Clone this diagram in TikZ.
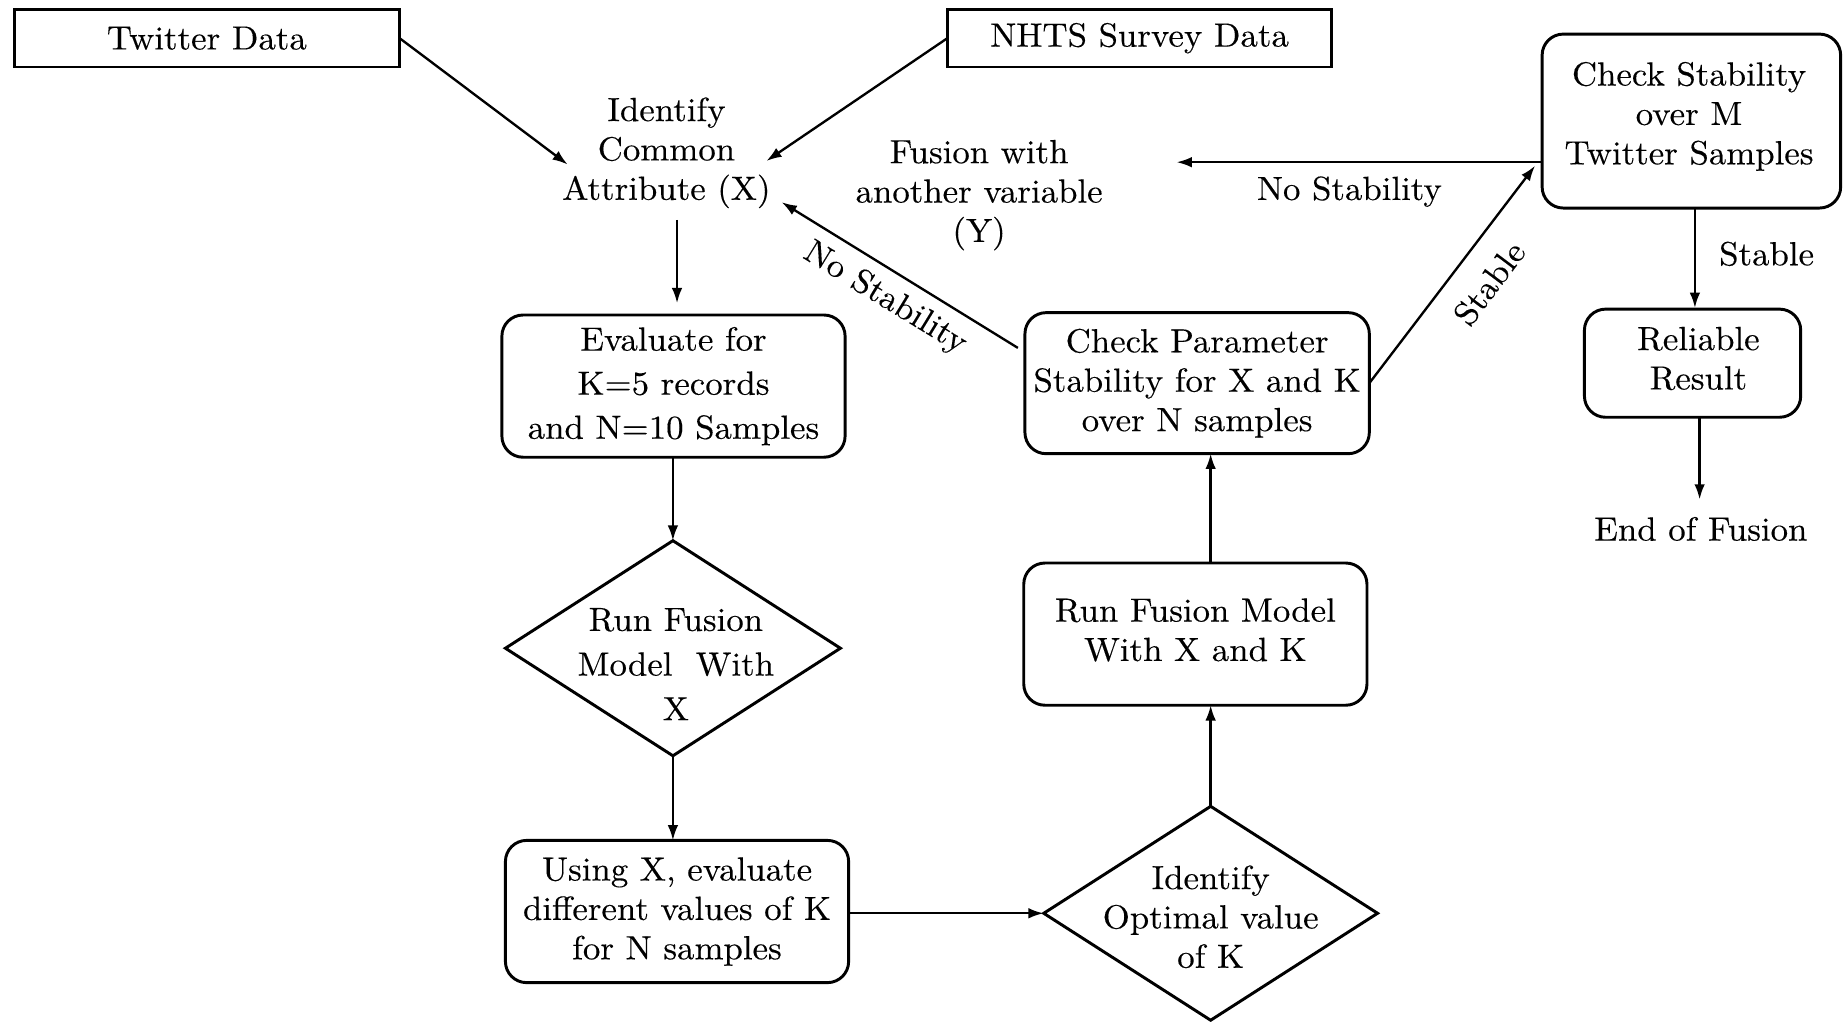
\documentclass[tikz,border=0pt]{standalone}
\usepackage{fontspec}
\setmainfont{lmroman10-regular}[Extension=.otf, FakeStretch=1.04, FakeBold=0.25]
\usetikzlibrary{shapes.geometric,arrows.meta}
\begin{document}
\begin{tikzpicture}[x=1pt,y=-1pt,
  every node/.style={font=\fontsize{28.5}{33.5}\selectfont, align=center, inner sep=0pt, outer sep=0pt},
  sqbox/.style={draw, line width=2.5pt, rectangle},
  rbox/.style={draw, line width=2.5pt, rectangle, rounded corners=18pt},
  dbox/.style={draw, line width=2.5pt, diamond, aspect=1.55},
  arr/.style={line width=2pt, -{Latex[length=13pt,width=9pt]}},
  lab/.style={font=\fontsize{28.5}{33.5}\selectfont}
]
\useasboundingbox (0,0) rectangle (1568,870);

% input boxes
\node[sqbox, minimum width=328pt, minimum height=49pt] (tw) at (176,32.5) {Twitter Data};
\node[sqbox, minimum width=327pt, minimum height=49pt] (nh) at (969.5,32.5) {NHTS Survey Data};

% common attribute text
\node (idc) at (567,130) {Identify\\Common\\Attribute (X)};

% evaluate box
\node[rbox, minimum width=292pt, minimum height=121pt] (ev) at (573,328.5) {Evaluate for\\[4pt]K=5 records\\[4pt]and N=10 Samples};

% diamond 1
\node[dbox, minimum width=285pt, minimum height=183pt] (d1) at (572.5,551.5) {};
\node[font=\fontsize{28.5}{38}\selectfont] (d1t) at (575,565) {Run Fusion\\Model~ With\\X};

% using X box
\node[rbox, minimum width=292pt, minimum height=121pt] (ux) at (576,775.5) {Using X, evaluate\\different values of K\\for N samples};

% diamond 2
\node[dbox, minimum width=284pt, minimum height=182pt] (d2) at (1030,777) {};
\node (d2t) at (1030,780) {Identify\\Optimal value\\of K};

% run fusion box
\node[rbox, minimum width=292pt, minimum height=121pt] (rf) at (1017,539.5) {};
\node (rft) at (1017,536) {Run Fusion Model\\With X and K};

% check parameter box
\node[rbox, minimum width=293pt, minimum height=120pt] (cp) at (1018.5,326) {Check Parameter\\Stability for X and K\\over N samples};

% check stability box
\node[rbox, minimum width=254pt, minimum height=148pt] (cs) at (1439,103) {};
\node (cst) at (1437,99) {Check Stability\\over M\\Twitter Samples};

% fusion with another variable
\node (fy) at (833,166) {Fusion with\\another variable\\(Y)};

% reliable result
\node[rbox, minimum width=184pt, minimum height=92pt] (rr) at (1440,309) {};
\node (rrt) at (1445,305) {Reliable\\Result};

% end of fusion
\node (ef) at (1447,450) {End of Fusion};

% coordinates for free ends
\coordinate (c1) at (483,140);
\coordinate (c2) at (652,137);
\coordinate (c3a) at (576,187);
\coordinate (c3b) at (576,258);
\coordinate (c4) at (866,296);
\coordinate (c5) at (665,172);
\coordinate (c6) at (1306,141);
\coordinate (c7a) at (1312,138);
\coordinate (c7b) at (1001,138);
\coordinate (c8) at (1446,425);

% connectors
\draw[arr] (tw.east) -- (c1);
\draw[arr] (nh.west) -- (c2);
\draw[arr] (c3a) -- (c3b);
\draw[arr] (ev.south -| d1.north) -- (d1.north);
\draw[arr] (d1.south) -- (d1.south |- ux.north);
\draw[arr] (ux.east |- d2.west) -- (d2.west);
\draw[arr] (d2.north) -- (d2.north |- rf.south);
\draw[arr] (d2.north |- rf.north) -- (d2.north |- cp.south);
\draw[arr] (c4) -- (c5);
\draw[arr] (cp.east) -- (c6);
\draw[arr] (c7a) -- (c7b);
\draw[arr] (1442,177) -- (1442,262);
\draw[arr] (rr.south -| c8) -- (c8);

% labels
\node[lab, rotate=-31.5] (l1) at (753,254) {No Stability};
\node[lab, rotate=53] (l2) at (1267,241) {Stable};
\node[lab] (l3) at (1148,163) {No Stability};
\node[lab] (l4) at (1503,216) {Stable};
\end{tikzpicture}
\end{document}
